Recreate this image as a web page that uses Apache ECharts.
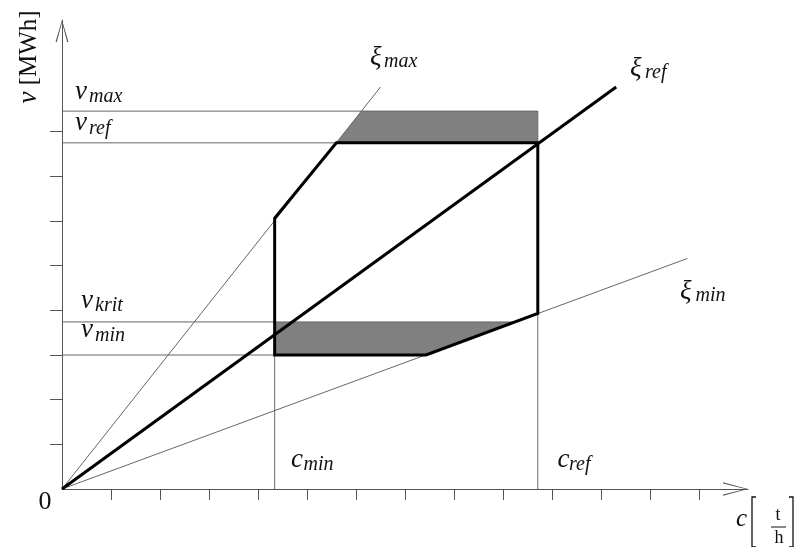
<!DOCTYPE html>
<html lang="de">
<head>
<meta charset="UTF-8">
<title>Betriebsbereich</title>
<script src="https://cdn.jsdelivr.net/npm/echarts@6/dist/echarts.min.js"></script>
<style>
  html, body { margin: 0; padding: 0; background: #fff; }
  #chart { width: 794px; height: 547px; }
</style>
</head>
<body>
<div id="chart"></div>
<script>
// Achsenteilung
const xTicks = [1, 2, 3, 4, 5, 6, 7, 8, 9, 10, 11, 12, 13];
const yTicks = [1, 2, 3, 4, 5, 6, 7, 8];

// Kennwerte
const cMin = 4.34, cRef = 9.71;
const vMin = 3.0, vKrit = 3.74, vRef = 7.75, vMax = 8.46;

// Ursprungsgeraden
const xiMax = [[0, 0], [6.5, 9.0]];
const xiRef = [[0, 0], [11.31, 9.0]];
const xiMin = [[0, 0], [12.76, 5.16]];

// Hilfslinien
const vMaxLine = [[0, vMax], [cRef, vMax], [cRef, vRef]];
const vRefLine = [[0, vRef], [5.6, vRef]];
const vKritLine = [[0, vKrit], [9.26, vKrit]];
const vMinLine = [[0, vMin], [cMin, vMin]];
const cMinLine = [[cMin, 0], [cMin, vMin]];
const cRefLine = [[cRef, 0], [cRef, 3.93]];

// Betriebsbereich und graue Flächen
const operatingArea = [[cMin, 6.06], [5.6, vRef], [cRef, vRef], [cRef, 3.93], [7.43, vMin], [cMin, vMin]];
const upperBand = [[5.6, vRef], [6.11, vMax], [cRef, vMax], [cRef, vRef]];
const lowerBand = [[cMin, vMin], [7.43, vMin], [9.26, vKrit], [cMin, vKrit]];

const THIN = '#666';
const FONT = '"Liberation Serif", "DejaVu Serif", serif';

// offene Pfeilspitze, Spitze oben
function arrowPath(w, h) {
  const t = 1.3;
  return 'path://M' + (w / 2) + ',0 L' + w + ',' + h + ' L' + (w - t) + ',' + h +
    ' L' + (w / 2) + ',' + (t * 2) + ' L' + t + ',' + h + ' L0,' + h + ' Z';
}

function seg(name, data, width, color, z) {
  return {
    name, type: 'line', data, symbol: 'none', showSymbol: false, silent: true,
    lineStyle: { width, color, cap: 'butt', join: 'miter' }, z
  };
}

function polygon(name, pts, style, z) {
  return {
    name, type: 'custom', coordinateSystem: 'cartesian2d', silent: true, z,
    data: pts,
    renderItem(params, api) {
      if (params.dataIndex !== 0) return;
      return { type: 'polygon', shape: { points: pts.map(p => api.coord(p)) }, style };
    }
  };
}

// Formelzeichen mit Index: Hauptzeichen + tiefgestellter Text
function mathLabel(main, sub, x, yc, sx, syc) {
  const fs = 27, ss = 20;
  return [
    { type: 'text', x: x, y: yc - 0.11 * fs, style: { text: main, font: 'italic ' + fs + 'px ' + FONT, fill: '#111', verticalAlign: 'middle' } },
    { type: 'text', x: sx, y: syc - 0.11 * ss, style: { text: sub, font: 'italic ' + ss + 'px ' + FONT, fill: '#111', verticalAlign: 'middle' } }
  ];
}

const chart = echarts.init(document.getElementById('chart'));
chart.setOption({
  animation: false,
  grid: { left: 62, top: 20, width: 686, height: 469, containLabel: false, outerBoundsMode: 'none' },
  xAxis: {
    type: 'value', min: 0, max: 14, interval: 1,
    splitLine: { show: false },
    axisLabel: { show: false },
    axisTick: { show: true, inside: false, length: 11, customValues: xTicks, lineStyle: { color: '#555' } },
    axisLine: {
      onZero: false, lineStyle: { color: '#555', width: 1 },
      symbol: ['none', arrowPath(13.5, 25)], symbolSize: [13.5, 25], symbolOffset: [0, -12.5]
    }
  },
  yAxis: {
    type: 'value', min: 0, max: 10.5, interval: 0.5,
    splitLine: { show: false },
    axisLabel: { show: false },
    axisTick: { show: true, inside: false, length: 12, customValues: yTicks, lineStyle: { color: '#555' } },
    axisLine: {
      onZero: false, lineStyle: { color: '#555', width: 1 },
      symbol: ['none', arrowPath(13, 22)], symbolSize: [13, 22], symbolOffset: [0, -11]
    }
  },
  series: [
    polygon('upperBand', upperBand, { fill: '#808080' }, 1),
    polygon('lowerBand', lowerBand, { fill: '#808080' }, 1),
    seg('xiMax', xiMax, 1, THIN, 2),
    seg('xiMin', xiMin, 1, THIN, 2),
    seg('vMax', vMaxLine, 1, THIN, 2),
    seg('vRef', vRefLine, 1, THIN, 2),
    seg('vKrit', vKritLine, 1, THIN, 2),
    seg('vMin', vMinLine, 1, THIN, 2),
    seg('cMin', cMinLine, 1, THIN, 2),
    seg('cRef', cRefLine, 1, THIN, 2),
    seg('xiRef', xiRef, 3, '#000', 3),
    polygon('operatingArea', operatingArea, { fill: 'none', stroke: '#000', lineWidth: 3, lineJoin: 'miter' }, 4)
  ],
  graphic: [].concat(
    mathLabel('v', 'max', 75, 94.5, 89, 99),
    mathLabel('v', 'ref', 75, 126, 89, 130.5),
    mathLabel('v', 'krit', 81, 303.5, 95, 308),
    mathLabel('v', 'min', 81, 333.3, 95, 337.8),
    mathLabel('ξ', 'max', 370, 61, 384, 64),
    mathLabel('ξ', 'ref', 630, 72, 645, 75),
    mathLabel('ξ', 'min', 680, 295, 695.5, 298),
    mathLabel('c', 'min', 291, 462.5, 303.5, 467),
    mathLabel('c', 'ref', 557.5, 462.5, 569, 467),
    [
      { type: 'text', x: 45, y: 502.5, style: { text: '0', font: '26px ' + FONT, fill: '#111', align: 'center', verticalAlign: 'middle' } },
      // Achsentitel y
      { type: 'text', x: 29, y: 57, rotation: Math.PI / 2,
        style: { text: '{i|v} [MWh]', font: '25px ' + FONT, fill: '#111', align: 'center', verticalAlign: 'middle',
          rich: { i: { fontStyle: 'italic', fontSize: 27, fontFamily: 'Liberation Serif' } } } },
      // Achsentitel x
      { type: 'text', x: 736, y: 519, style: { text: 'c', font: 'italic 25px ' + FONT, fill: '#111', verticalAlign: 'middle' } },
      { type: 'polyline', shape: { points: [[756, 497], [752, 497], [752, 547], [756, 547]] }, style: { stroke: '#111', lineWidth: 1.3, fill: 'none' } },
      { type: 'polyline', shape: { points: [[789, 497], [793, 497], [793, 547], [789, 547]] }, style: { stroke: '#111', lineWidth: 1.3, fill: 'none' } },
      { type: 'text', x: 778, y: 515, style: { text: 't', font: '18px ' + FONT, fill: '#111', align: 'center', verticalAlign: 'middle' } },
      { type: 'line', shape: { x1: 771, y1: 527, x2: 786, y2: 527 }, style: { stroke: '#111', lineWidth: 1 } },
      { type: 'text', x: 779, y: 538.5, style: { text: 'h', font: '18px ' + FONT, fill: '#111', align: 'center', verticalAlign: 'middle' } }
    ]
  )
});
</script>
</body>
</html>
